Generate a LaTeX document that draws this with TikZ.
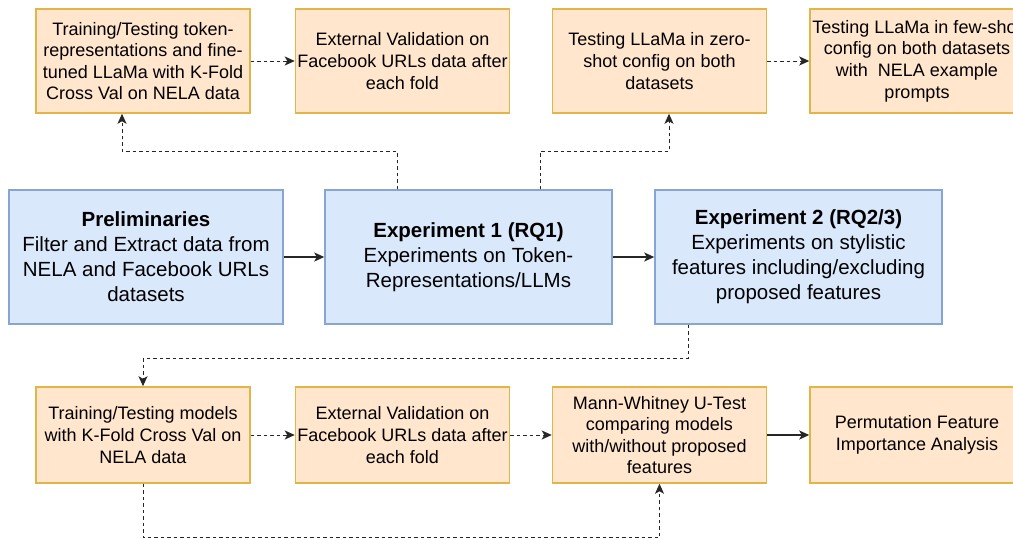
\documentclass[tikz,border=0pt]{standalone}
\usepackage{fontspec}
\setmainfont{Liberation Sans}
\usetikzlibrary{arrows.meta}
\definecolor{boxorange}{HTML}{FFE6CC}
\definecolor{lineorange}{HTML}{E3B548}
\definecolor{boxblue}{HTML}{DAE8FC}
\definecolor{lineblue}{HTML}{86A5D6}
\tikzset{
  stagebox/.style={draw=lineorange, fill=boxorange, line width=1.5pt, align=center,
    minimum width=214pt, minimum height=104pt, inner sep=0pt, font=\fontsize{18}{21.6}\selectfont},
  lowbox/.style={stagebox, minimum height=96pt},
  expbox/.style={draw=lineblue, fill=boxblue, line width=1.5pt, align=center,
    minimum width=287pt, minimum height=134pt, inner sep=0pt, font=\fontsize{20.5}{25}\selectfont},
  solidarr/.style={-{Stealth[length=10pt,width=9pt,inset=2.5pt]}, line width=1.3pt, draw=black!85},
  dasharr/.style={-{Stealth[length=10pt,width=9pt,inset=2.5pt]}, line width=1pt, draw=black!85,
    dash pattern=on 3.5pt off 3pt}
}
\begin{document}
\begin{tikzpicture}[x=1pt,y=-1pt]
      \useasboundingbox (0,0) rectangle (1013,539);
      \clip (0,0) rectangle (1013,539);
      % top row
      \node[stagebox] (t1) at (143,61) {Training/Testing token-\\representations and fine-\\tuned LLaMa with K-Fold\\Cross Val on NELA data};
      \node[stagebox] (t2) at (402.5,61) {External Validation on\\Facebook URLs data after\\each fold};
      \node[stagebox] (t3) at (659.5,61) {Testing LLaMa in zero-\\shot config on both\\datasets};
      \node[stagebox] (t4) at (917,61) {Testing LLaMa in few-shot\\config on both datasets\\with\ \ NELA example\\prompts};
      % middle row
      \node[expbox, minimum width=274pt] (pre) at (146,257) {\textbf{Preliminaries}\\Filter and Extract data from\\NELA and Facebook URLs\\datasets};
      \node[expbox] (e1) at (468.5,257) {\textbf{Experiment 1 (RQ1)}\\Experiments on Token-\\Representations/LLMs};
      \node[expbox] (e2) at (798.5,257) {\textbf{Experiment 2 (RQ2/3)}\\Experiments on stylistic\\features including/excluding\\proposed features};
      % bottom row
      \node[lowbox] (b1) at (143,435) {Training/Testing models\\with K-Fold Cross Val on\\NELA data};
      \node[lowbox] (b2) at (402.5,435) {External Validation on\\Facebook URLs data after\\each fold};
      \node[lowbox] (b3) at (659.5,435) {Mann-Whitney U-Test\\comparing models\\with/without proposed\\features};
      \node[lowbox] (b4) at (917,435) {Permutation Feature\\Importance Analysis};
      % connectors
      \draw[solidarr] (pre) -- (e1);
      \draw[solidarr] (e1) -- (e2);
      \draw[dasharr] (t1) -- (t2);
      \draw[dasharr] (t3) -- (t4);
      \draw[dasharr] ([xshift=-71.5pt]e1.north) -- ++(0,-38) -| ([xshift=-21pt]t1.south);
      \draw[dasharr] ([xshift=71.5pt]e1.north) -- ++(0,-38) -| ([xshift=9.5pt]t3.south);
      \draw[dasharr] ([xshift=-110.5pt]e2.south) -- ++(0,34) -| (b1.north);
      \draw[dasharr] (b1) -- (b2);
      \draw[dasharr] (b2) -- (b3);
      \draw[solidarr] (b3) -- (b4);
      \draw[dasharr] (b1.south) -- ++(0,54) -| (b3.south);
    \end{tikzpicture}
\end{document}
